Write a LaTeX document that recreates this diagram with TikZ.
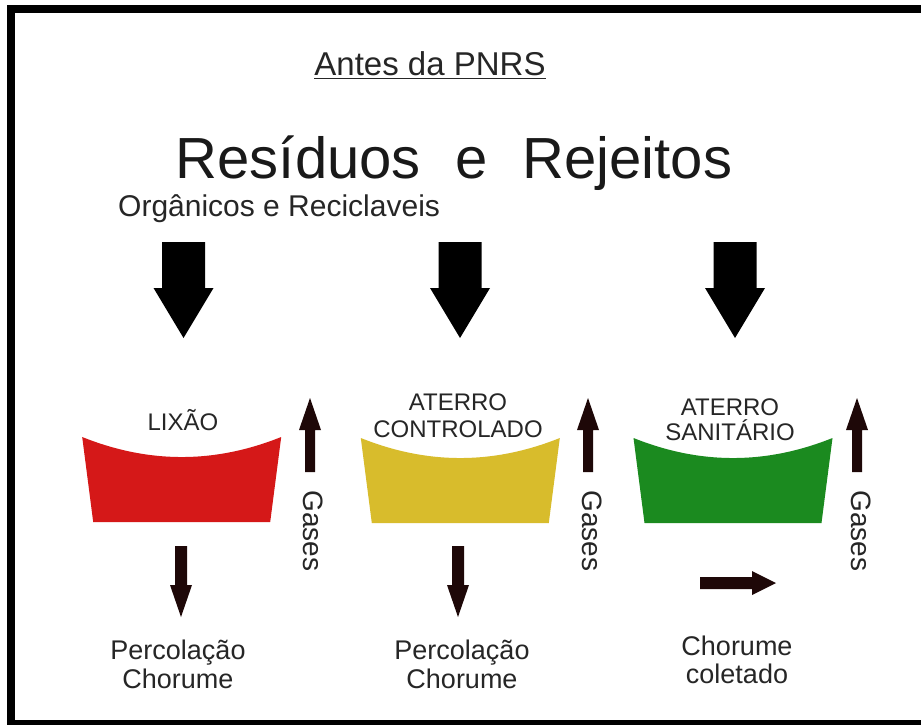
\documentclass[tikz,border=0pt]{standalone}
\usepackage{fontspec}
\setmainfont{Liberation Sans}
\definecolor{textgray}{HTML}{262626}
\definecolor{arrowbrown}{HTML}{1E0808}
\definecolor{lixaored}{HTML}{D51818}
\definecolor{contyellow}{HTML}{D8BC2C}
\definecolor{sangreen}{HTML}{1B8A1F}
\begin{document}
\begin{tikzpicture}[x=1pt,y=-1pt,
  lbl/.style={text=textgray, inner sep=0pt, anchor=base},
  bigdown/.pic={\fill[black] (-21.5,0) -- (21.5,0) -- (21.5,46) -- (30,46) -- (0,96) -- (-30,46) -- (-21.5,46) -- cycle;},
  gasup/.pic={\fill[arrowbrown] (0,0) -- (11,32) -- (5,32) -- (5,74) -- (-5,74) -- (-5,32) -- (-11,32) -- cycle;},
  percdown/.pic={\fill[arrowbrown] (0,0) -- (11,-32) -- (6,-32) -- (6,-71) -- (-6,-71) -- (-6,-32) -- (-11,-32) -- cycle;},
  basin/.pic={\fill[pic actions] (-99.5,0) .. controls (-33,26.7) and (33,26.7) .. (99.5,0) -- (88.5,85) -- (-88.5,85) -- cycle;}
]
\useasboundingbox (0,0) rectangle (921,725);
\fill[white] (0,0) rectangle (921,725);
% frame
\fill[black] (7,5) rectangle (921,13);
\fill[black] (7,5) rectangle (15,725);
\fill[black] (7,720) rectangle (921,725);

% titles
\node[lbl] (antes) at (430,76) {\fontsize{33}{33}\selectfont\underline{Antes da PNRS}};
\node[lbl, text=black!90] (residuos) at (454,178) {\fontsize{58}{58}\selectfont Resíduos\hspace{0.6em}e\hspace{0.6em}Rejeitos};
\node[lbl, anchor=base west] (organicos) at (118,216) {\fontsize{30}{30}\selectfont Orgânicos e Reciclaveis};

% big arrows
\pic at (183.5,242) {bigdown};
\pic at (460,242) {bigdown};
\pic at (735,242) {bigdown};

% basins
\pic[fill=lixaored] at (181.7,437) {basin};
\pic[fill=contyellow] at (460.3,438) {basin};
\pic[fill=sangreen] at (733,438) {basin};

% basin labels
\node[lbl] (lixao) at (183,430) {\fontsize{24}{24}\selectfont LIXÃO};
\node[lbl] (aterro1) at (458,410) {\fontsize{24}{24}\selectfont ATERRO};
\node[lbl] (controlado) at (458,437) {\fontsize{24}{24}\selectfont CONTROLADO};
\node[lbl] (aterro2) at (730,415) {\fontsize{24}{24}\selectfont ATERRO};
\node[lbl] (sanitario) at (730,440) {\fontsize{24}{24}\selectfont SANITÁRIO};

% gases arrows and labels
\pic at (310,398) {gasup};
\pic at (588,398) {gasup};
\pic at (857,398) {gasup};
\node[text=textgray, inner sep=0pt, rotate=-90] (gases1) at (313,531) {\fontsize{28}{28}\selectfont Gases};
\node[text=textgray, inner sep=0pt, rotate=-90] (gases2) at (592,531) {\fontsize{28}{28}\selectfont Gases};
\node[text=textgray, inner sep=0pt, rotate=-90] (gases3) at (861,531) {\fontsize{28}{28}\selectfont Gases};

% percolation arrows
\pic at (181,617) {percdown};
\pic at (458,617) {percdown};
\fill[arrowbrown] (776,583) -- (752,571) -- (752,577) -- (700,577) -- (700,589) -- (752,589) -- (752,595) -- cycle;

% bottom labels
\node[lbl] (perc1) at (178,659) {\fontsize{27}{27}\selectfont Percolação};
\node[lbl] (chor1) at (178,688) {\fontsize{27}{27}\selectfont Chorume};
\node[lbl] (perc2) at (462,659) {\fontsize{27}{27}\selectfont Percolação};
\node[lbl] (chor2) at (462,688) {\fontsize{27}{27}\selectfont Chorume};
\node[lbl] (chor3) at (737,655) {\fontsize{27}{27}\selectfont Chorume};
\node[lbl] (coletado) at (737,683) {\fontsize{27}{27}\selectfont coletado};
\end{tikzpicture}
\end{document}
